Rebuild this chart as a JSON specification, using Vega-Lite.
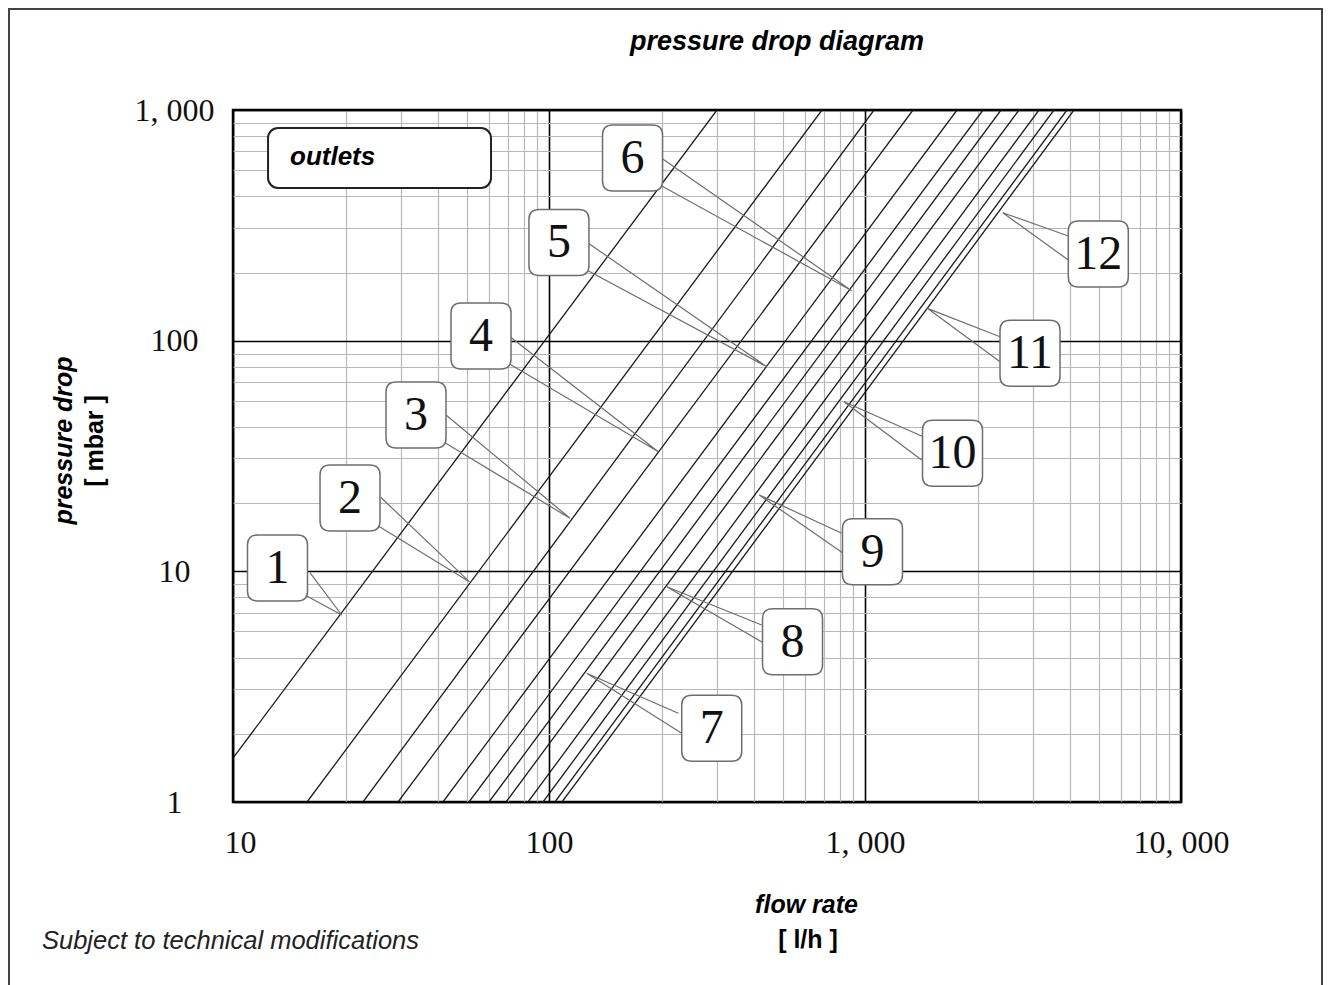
{
  "$schema": "https://vega.github.io/schema/vega-lite/v6.json",
  "width": 948,
  "height": 692,
  "autosize": {"type": "none"},
  "padding": {"left": 233, "top": 110, "right": 150, "bottom": 183},
  "background": "white",
  "config": {
    "view": {"stroke": "#000", "strokeWidth": 2.5}
  },
  "datasets": {
    "curves": [
      {"outlet": 1, "q": 10, "p": 1.55}, {"outlet": 1, "q": 340.1, "p": 1000},
      {"outlet": 2, "q": 17.15, "p": 1}, {"outlet": 2, "q": 731, "p": 1000},
      {"outlet": 3, "q": 25.78, "p": 1}, {"outlet": 3, "q": 1068, "p": 1000},
      {"outlet": 4, "q": 33.28, "p": 1}, {"outlet": 4, "q": 1419, "p": 1000},
      {"outlet": 5, "q": 46.18, "p": 1}, {"outlet": 5, "q": 1955, "p": 1000},
      {"outlet": 6, "q": 55.83, "p": 1}, {"outlet": 6, "q": 2363, "p": 1000},
      {"outlet": 7, "q": 64.58, "p": 1}, {"outlet": 7, "q": 2694, "p": 1000},
      {"outlet": 8, "q": 73.1, "p": 1}, {"outlet": 8, "q": 3072, "p": 1000},
      {"outlet": 9, "q": 85.82, "p": 1}, {"outlet": 9, "q": 3553, "p": 1000},
      {"outlet": 10, "q": 95.72, "p": 1}, {"outlet": 10, "q": 3963, "p": 1000},
      {"outlet": 11, "q": 104.4, "p": 1}, {"outlet": 11, "q": 4357, "p": 1000},
      {"outlet": 12, "q": 109.9, "p": 1}, {"outlet": 12, "q": 4585, "p": 1000}
    ],
    "wedges": [
      {"outlet": 1, "ord": 0, "q": 17.52, "p": 9.865}, {"outlet": 1, "ord": 1, "q": 22.08, "p": 6.467}, {"outlet": 1, "ord": 2, "q": 16.9, "p": 7.897},
      {"outlet": 2, "ord": 0, "q": 29.34, "p": 20.94}, {"outlet": 2, "ord": 1, "q": 55.96, "p": 9.018}, {"outlet": 2, "ord": 2, "q": 28.49, "p": 15.88},
      {"outlet": 3, "ord": 0, "q": 47.21, "p": 47.61}, {"outlet": 3, "ord": 1, "q": 116.5, "p": 16.98}, {"outlet": 3, "ord": 2, "q": 46.29, "p": 36.48},
      {"outlet": 4, "ord": 0, "q": 75.26, "p": 104.0}, {"outlet": 4, "ord": 1, "q": 221.8, "p": 33.01}, {"outlet": 4, "ord": 2, "q": 74.33, "p": 79.78},
      {"outlet": 5, "ord": 0, "q": 133.2, "p": 264.3}, {"outlet": 5, "ord": 1, "q": 488.5, "p": 77.14}, {"outlet": 5, "ord": 2, "q": 131.6, "p": 202.5},
      {"outlet": 6, "ord": 0, "q": 227.3, "p": 617.5}, {"outlet": 6, "ord": 1, "q": 907.7, "p": 164.7}, {"outlet": 6, "ord": 2, "q": 224.5, "p": 473.0},
      {"outlet": 7, "ord": 0, "q": 256.6, "p": 2.424}, {"outlet": 7, "ord": 1, "q": 131.6, "p": 3.613}, {"outlet": 7, "ord": 2, "q": 263.0, "p": 1.985},
      {"outlet": 8, "ord": 0, "q": 471.1, "p": 5.853}, {"outlet": 8, "ord": 1, "q": 235.8, "p": 8.579}, {"outlet": 8, "ord": 2, "q": 479.1, "p": 4.876},
      {"outlet": 9, "ord": 0, "q": 843.9, "p": 14.62}, {"outlet": 9, "ord": 1, "q": 462.9, "p": 21.42}, {"outlet": 9, "ord": 2, "q": 853.7, "p": 11.97},
      {"outlet": 10, "ord": 0, "q": 1529, "p": 38.34}, {"outlet": 10, "ord": 1, "q": 858.1, "p": 54.37}, {"outlet": 10, "ord": 2, "q": 1511, "p": 30.38},
      {"outlet": 11, "ord": 0, "q": 2675, "p": 104.0}, {"outlet": 11, "ord": 1, "q": 1575, "p": 138.1}, {"outlet": 11, "ord": 2, "q": 2675, "p": 81.05},
      {"outlet": 12, "ord": 0, "q": 4399, "p": 284.3}, {"outlet": 12, "ord": 1, "q": 2728, "p": 358.7}, {"outlet": 12, "ord": 2, "q": 4399, "p": 223.7}
    ],
    "labels": [
      {"outlet": 1, "q": 13.83, "p": 10.34},
      {"outlet": 2, "q": 23.46, "p": 20.79},
      {"outlet": 3, "q": 37.94, "p": 47.61},
      {"outlet": 4, "q": 60.93, "p": 104.8},
      {"outlet": 5, "q": 107.5, "p": 266.5},
      {"outlet": 6, "q": 183.8, "p": 619.4},
      {"outlet": 7, "q": 327.3, "p": 2.087},
      {"outlet": 8, "q": 589.7, "p": 4.955},
      {"outlet": 9, "q": 1056, "p": 12.17},
      {"outlet": 10, "q": 1892, "p": 32.48},
      {"outlet": 11, "q": 3328, "p": 88.17},
      {"outlet": 12, "q": 5474, "p": 237.5}
    ],
    "notes": [
      {"kind": "title", "text": "pressure drop diagram", "q": 526.6, "p": 1971},
      {"kind": "unitY", "text": "[ mbar ]", "q": 3.659, "p": 36.73},
      {"kind": "unitX", "text": "[ l/h ]", "q": 660.2, "p": 0.2522},
      {"kind": "foot", "text": "Subject to technical modifications", "q": 2.486, "p": 0.2496},
      {"kind": "outlets", "text": "outlets", "q": 15.15, "p": 625.7}
    ],
    "outletsBox": [
      {"q": 12.91, "q2": 65.54, "p": 459.1, "p2": 835.6}
    ],
    "frame": [
      {"q": 1.955, "q2": 27940, "p": 0.1457, "p2": 2738}
    ]
  },
  "encoding": {
    "x": {
      "field": "q",
      "type": "quantitative",
      "scale": {"type": "log", "domain": [10, 10000], "nice": false},
      "axis": {
        "values": [10, 22.8, 33.9, 44.7, 55.1, 64.6, 74.1, 83.2, 91.6, 100, 228, 339, 447, 551, 646, 741, 832, 916, 1000, 2280, 3390, 4470, 5510, 6460, 7410, 8320, 9160, 10000],
        "grid": true,
        "gridColor": {"condition": {"test": "datum.value == 10 || datum.value == 100 || datum.value == 1000 || datum.value == 10000", "value": "#000"}, "value": "#b8b8b8"},
        "gridWidth": {"condition": {"test": "datum.value == 10 || datum.value == 100 || datum.value == 1000 || datum.value == 10000", "value": 1.6}, "value": 1.2},
        "ticks": false,
        "tickSize": 0,
        "domain": false,
        "labelExpr": "datum.value == 10 ? '10' : datum.value == 100 ? '100' : datum.value == 1000 ? '1, 000' : datum.value == 10000 ? '10, 000' : ''",
        "labelOffset": {"condition": {"test": "datum.value == 10", "value": 7}, "value": 0},
        "labelFont": "Liberation Serif",
        "labelFontSize": 32,
        "labelColor": "#111",
        "labelPadding": 40,
        "labelBaseline": "middle",
        "labelAlign": "center",
        "labelFlush": false,
        "labelOverlap": false,
        "labelBound": false,
        "title": "flow rate",
        "titleFont": "Liberation Sans",
        "titleFontSize": 25,
        "titleFontStyle": "italic",
        "titleFontWeight": "bold",
        "titleColor": "#000",
        "titleX": 573,
        "titleY": 102,
        "titleAlign": "center",
        "titleBaseline": "middle"
      }
    },
    "y": {
      "field": "p",
      "type": "quantitative",
      "scale": {"type": "log", "domain": [1, 1000], "nice": false},
      "axis": {
        "values": [1, 1.97, 3.09, 4.22, 5.5, 6.61, 7.71, 8.77, 10, 19.7, 30.9, 42.2, 55, 66.1, 77.1, 87.7, 100, 197, 309, 422, 550, 661, 771, 877, 1000],
        "grid": true,
        "gridColor": {"condition": {"test": "datum.value == 1 || datum.value == 10 || datum.value == 100 || datum.value == 1000", "value": "#000"}, "value": "#b8b8b8"},
        "gridWidth": {"condition": {"test": "datum.value == 1 || datum.value == 10 || datum.value == 100 || datum.value == 1000", "value": 1.6}, "value": 1.2},
        "ticks": false,
        "tickSize": 0,
        "domain": false,
        "labelExpr": "datum.value == 1 ? '1' : datum.value == 10 ? '10' : datum.value == 100 ? '100' : datum.value == 1000 ? '1, 000' : ''",
        "labelFont": "Liberation Serif",
        "labelFontSize": 32,
        "labelColor": "#111",
        "labelPadding": 59,
        "labelAlign": "center",
        "labelBaseline": "middle",
        "labelOverlap": false,
        "labelBound": false,
        "labelFlush": false,
        "title": "pressure drop",
        "titleFont": "Liberation Sans",
        "titleFontSize": 25,
        "titleFontStyle": "italic",
        "titleFontWeight": "bold",
        "titleColor": "#000",
        "titleAngle": 270,
        "titleX": -170,
        "titleY": 330,
        "titleAlign": "center",
        "titleBaseline": "middle"
      }
    }
  },
  "layer": [
    {
      "data": {"name": "curves"},
      "mark": {"type": "line", "color": "#1a1a1a", "strokeWidth": 1.3, "clip": true},
      "encoding": {"detail": {"field": "outlet", "type": "nominal"}}
    },
    {
      "data": {"name": "wedges"},
      "mark": {"type": "line", "color": "#6e6e6e", "strokeWidth": 1.2, "clip": true},
      "encoding": {
        "detail": {"field": "outlet", "type": "nominal"},
        "order": {"field": "ord", "type": "quantitative"}
      }
    },
    {
      "data": {"name": "labels"},
      "mark": {
        "type": "point",
        "shape": "M -0.6 -1 L 0.6 -1 Q 0.909 -1 0.909 -0.697 L 0.909 0.697 Q 0.909 1 0.6 1 L -0.6 1 Q -0.909 1 -0.909 0.697 L -0.909 -0.697 Q -0.909 -1 -0.6 -1 Z",
        "size": 4356,
        "fill": "#ffffff",
        "fillOpacity": 1,
        "stroke": "#6e6e6e",
        "strokeWidth": 1.5,
        "opacity": 1
      }
    },
    {
      "data": {"name": "labels"},
      "mark": {"type": "text", "font": "Liberation Serif", "fontSize": 48, "color": "#111", "align": "center", "baseline": "middle", "dy": 1},
      "encoding": {"text": {"field": "outlet", "type": "nominal"}}
    },
    {
      "data": {"name": "outletsBox"},
      "mark": {"type": "rect", "fill": "#ffffff", "stroke": "#222", "strokeWidth": 2, "cornerRadius": 10},
      "encoding": {
        "x2": {"field": "q2"},
        "y2": {"field": "p2"}
      }
    },
    {
      "data": {"name": "notes"},
      "transform": [{"filter": "datum.kind == 'outlets'"}],
      "mark": {"type": "text", "font": "Liberation Sans", "fontSize": 26, "fontStyle": "italic", "fontWeight": "bold", "color": "#000", "align": "left", "baseline": "middle"},
      "encoding": {"text": {"field": "text", "type": "nominal"}}
    },
    {
      "data": {"name": "notes"},
      "transform": [{"filter": "datum.kind == 'title'"}],
      "mark": {"type": "text", "font": "Liberation Sans", "fontSize": 27, "fontStyle": "italic", "fontWeight": "bold", "color": "#000", "align": "center", "baseline": "middle"},
      "encoding": {"text": {"field": "text", "type": "nominal"}}
    },
    {
      "data": {"name": "notes"},
      "transform": [{"filter": "datum.kind == 'unitY'"}],
      "mark": {"type": "text", "font": "Liberation Sans", "fontSize": 25, "fontWeight": "bold", "color": "#000", "align": "center", "baseline": "middle", "angle": 270},
      "encoding": {"text": {"field": "text", "type": "nominal"}}
    },
    {
      "data": {"name": "notes"},
      "transform": [{"filter": "datum.kind == 'unitX'"}],
      "mark": {"type": "text", "font": "Liberation Sans", "fontSize": 25, "fontWeight": "bold", "color": "#000", "align": "center", "baseline": "middle"},
      "encoding": {"text": {"field": "text", "type": "nominal"}}
    },
    {
      "data": {"name": "notes"},
      "transform": [{"filter": "datum.kind == 'foot'"}],
      "mark": {"type": "text", "font": "Liberation Sans", "fontSize": 25.5, "fontStyle": "italic", "color": "#222", "align": "left", "baseline": "middle"},
      "encoding": {"text": {"field": "text", "type": "nominal"}}
    },
    {
      "data": {"name": "frame"},
      "mark": {"type": "rect", "fillOpacity": 0, "stroke": "#444", "strokeWidth": 2},
      "encoding": {
        "x2": {"field": "q2"},
        "y2": {"field": "p2"}
      }
    }
  ]
}
